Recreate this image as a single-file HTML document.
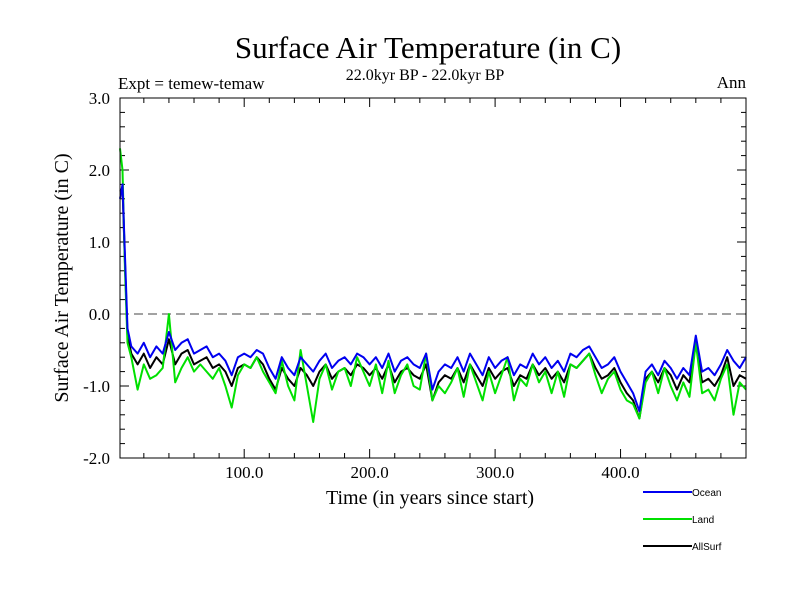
<!DOCTYPE html>
<html><head><meta charset="utf-8"><style>
body{margin:0;background:#fff}
svg text{font-family:"Liberation Serif",serif}
</style></head><body>
<svg id="c" width="800" height="600" xmlns="http://www.w3.org/2000/svg">
<text x="428" y="58" font-size="31" text-anchor="middle">Surface Air Temperature (in C)</text>
<text x="425" y="80" font-size="16" text-anchor="middle">22.0kyr BP - 22.0kyr BP</text>
<text x="118" y="89" font-size="17">Expt = temew-temaw</text>
<text x="746" y="88" font-size="17" text-anchor="end">Ann</text>
<text x="430" y="504" font-size="20" text-anchor="middle">Time (in years since start)</text>
<text x="0" y="0" font-size="20" text-anchor="middle" transform="translate(68,278) rotate(-90)">Surface Air Temperature (in C)</text>
<g id="axes"></g>
<g id="series"></g>
<rect x="120" y="98" width="626" height="360" fill="none" stroke="#000" stroke-width="1"/>
<g id="legend"></g>
</svg>
<script>
const startYears=[1,3,5,7];
const years=startYears.concat(Array.from({length:99},(_,i)=>10+5*i));
const ocean=[1.6,1.8,0.8,-0.2,
-0.45,-0.55,-0.4,-0.6,-0.45,-0.55,-0.25,-0.5,-0.4,-0.35,-0.55,-0.5,-0.45,-0.6,-0.55,-0.65,-0.85,-0.6,-0.55,-0.6,
-0.5,-0.55,-0.75,-0.9,-0.6,-0.75,-0.85,-0.6,-0.7,-0.8,-0.65,-0.55,-0.75,-0.65,-0.6,-0.7,-0.55,-0.6,-0.7,-0.6,
-0.75,-0.55,-0.8,-0.65,-0.6,-0.7,-0.75,-0.55,-1.05,-0.8,-0.7,-0.75,-0.6,-0.8,-0.55,-0.7,-0.85,-0.6,-0.75,-0.65,
-0.6,-0.85,-0.7,-0.75,-0.55,-0.7,-0.6,-0.75,-0.65,-0.8,-0.55,-0.6,-0.5,-0.45,-0.6,-0.75,-0.7,-0.6,-0.8,-0.95,
-1.1,-1.35,-0.8,-0.7,-0.85,-0.65,-0.75,-0.9,-0.75,-0.85,-0.3,-0.8,-0.75,-0.85,-0.7,-0.5,-0.65,-0.75,-0.6];
const land=[2.3,2.0,0.6,-0.4,
-0.6,-1.05,-0.7,-0.9,-0.85,-0.75,0.0,-0.95,-0.75,-0.6,-0.8,-0.7,-0.8,-0.9,-0.75,-1.0,-1.3,-0.85,-0.7,-0.75,
-0.6,-0.8,-0.95,-1.1,-0.65,-1.0,-1.2,-0.5,-1.0,-1.5,-0.9,-0.7,-1.05,-0.8,-0.75,-1.0,-0.6,-0.8,-1.0,-0.7,
-1.1,-0.65,-1.1,-0.85,-0.7,-1.0,-1.05,-0.55,-1.2,-1.0,-1.1,-0.95,-0.75,-1.15,-0.7,-0.95,-1.2,-0.8,-1.1,-0.85,
-0.6,-1.2,-0.9,-1.0,-0.7,-0.95,-0.8,-1.1,-0.8,-1.15,-0.7,-0.75,-0.65,-0.55,-0.85,-1.1,-0.9,-0.8,-1.05,-1.2,
-1.25,-1.45,-0.95,-0.8,-1.1,-0.75,-1.0,-1.2,-0.95,-1.15,-0.4,-1.1,-1.05,-1.2,-0.9,-0.7,-1.4,-0.95,-1.05];
const allSurf=[1.7,1.75,0.7,-0.3,
-0.55,-0.7,-0.55,-0.75,-0.6,-0.7,-0.35,-0.7,-0.55,-0.5,-0.7,-0.65,-0.6,-0.75,-0.7,-0.8,-1.0,-0.75,-0.7,-0.75,
-0.6,-0.7,-0.9,-1.05,-0.75,-0.9,-1.0,-0.75,-0.85,-1.0,-0.8,-0.7,-0.9,-0.8,-0.75,-0.85,-0.7,-0.75,-0.85,-0.75,
-0.9,-0.7,-0.95,-0.8,-0.75,-0.85,-0.9,-0.7,-1.2,-0.95,-0.85,-0.9,-0.75,-0.95,-0.7,-0.85,-1.0,-0.75,-0.9,-0.8,
-0.75,-1.0,-0.85,-0.9,-0.7,-0.85,-0.75,-0.9,-0.8,-0.95,-0.7,-0.75,-0.65,-0.55,-0.75,-0.9,-0.85,-0.75,-0.95,-1.1,
-1.2,-1.45,-0.9,-0.8,-0.95,-0.75,-0.85,-1.05,-0.85,-0.95,-0.4,-0.95,-0.9,-1.0,-0.85,-0.6,-1.0,-0.85,-0.9];
const xTickLabels=["100.0","200.0","300.0","400.0"];
const xTickValues=[100,200,300,400];
const yTickLabels=["-2.0","-1.0","0.0","1.0","2.0","3.0"];
const yTickValues=[-2,-1,0,1,2,3];

const X0=120,X1=746,Y0=98,Y1=458,XMIN=1,XMAX=500,YMIN=-2,YMAX=3;
const sx=t=>X0+(t-XMIN)*(X1-X0)/(XMAX-XMIN);
const sy=v=>Y1-(v-YMIN)*(Y1-Y0)/(YMAX-YMIN);
const NS="http://www.w3.org/2000/svg";
function mk(tag,attrs,parent){const e=document.createElementNS(NS,tag);for(const k in attrs)e.setAttribute(k,attrs[k]);parent.appendChild(e);return e;}
const axes=document.getElementById('axes');
for(let v=YMIN;v<=YMAX+1e-9;v+=0.2){
  const y=sy(v), major=Math.abs(v-Math.round(v))<1e-6, L=major?9:5;
  const t1=mk('line',{x1:X0,x2:X0+L,y1:y,y2:y,stroke:'#000'},axes);
  
  
  const t2=mk('line',{x1:X1-L,x2:X1,y1:y,y2:y,stroke:'#000'},axes);
  
  
}
yTickValues.forEach((v,i)=>{
  const t=mk('text',{x:110,y:sy(v)+6,'font-size':17,'text-anchor':'end'},axes);
  t.textContent=yTickLabels[i];
  
  
});
for(let t=20;t<XMAX;t+=20){
  const x=sx(t), major=t%100===0, L=major?9:5;
  const a=mk('line',{x1:x,x2:x,y1:Y1,y2:Y1-L,stroke:'#000'},axes);
  
  
  const b=mk('line',{x1:x,x2:x,y1:Y0,y2:Y0+L,stroke:'#000'},axes);
  
  
}
xTickValues.forEach((v,i)=>{
  const t=mk('text',{x:sx(v),y:478,'font-size':17,'text-anchor':'middle'},axes);
  t.textContent=xTickLabels[i];
  
  
});
const zl=mk('line',{x1:X0,x2:X1,y1:sy(0),y2:sy(0),stroke:'#444','stroke-dasharray':'9,5'},axes);


const sg=document.getElementById('series');
const series=[[allSurf,'#000','allsurf-line'],[land,'#00e000','land-line'],[ocean,'#0000f0','ocean-line']];
series.forEach(([vals,col,name])=>{
  const d=vals.map((v,i)=>(i?'L':'M')+sx(years[i]).toFixed(1)+','+sy(v).toFixed(1)).join('');
  const p=mk('path',{d:d,fill:'none',stroke:col,'stroke-width':2,'stroke-linejoin':'round'},sg);
  
  
});
const lg=document.getElementById('legend');
[['Ocean','#0000f0',492],['Land','#00e000',519],['AllSurf','#000',546]].forEach(([n,c,y])=>{
  const l=mk('line',{x1:643,x2:692,y1:y,y2:y,stroke:c,'stroke-width':2},lg);
  
  
  const t=mk('text',{x:692,y:y+4,'font-size':10,style:'font-family:"Liberation Sans",sans-serif'},lg);
  t.textContent=n;
  
  
});
</script>
</body></html>
